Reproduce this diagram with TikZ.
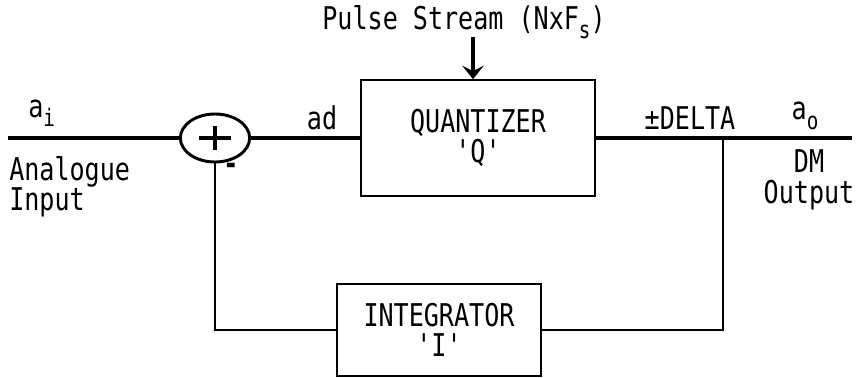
\documentclass[tikz,border=0pt]{standalone}
\usepackage{fontspec}
\setmainfont[FakeStretch=0.8,Ligatures=TeXOff]{DejaVu Sans Mono}
\usetikzlibrary{arrows.meta,shapes.geometric}
\newcommand{\lowsub}[1]{\raisebox{-0.3em}{\fontsize{18}{18}\selectfont #1}}

\tikzset{
  txt/.style={font=\fontsize{23.5}{23}\selectfont,inner sep=0pt},
  blockbox/.style={draw,line width=1.3pt,align=center,txt},
  sig/.style={line width=3pt},
  fb/.style={line width=2.2pt},
}

\begin{document}
\begin{tikzpicture}[x=0.75pt,y=-0.75pt]
        \useasboundingbox (0,0) rectangle (858,378);

        % blocks
        \node[draw,line width=2.2pt,ellipse,inner sep=0pt,minimum width=52pt,minimum height=36pt] (sum) at (215,138) {};
        \draw[line width=3pt] ([xshift=-12pt]sum.center) -- ([xshift=12pt]sum.center);
        \draw[line width=3pt] ([yshift=-9pt]sum.center) -- ([yshift=9pt]sum.center);
        \node[blockbox,minimum width=175pt,minimum height=87pt] (quant) at (478,138) {QUANTIZER\\'Q'};
        \node[blockbox,minimum width=153pt,minimum height=69pt] (integ) at (439,330) {INTEGRATOR\\'I'};

        \coordinate (in) at (8,138);
        \coordinate (out) at (852,138);
        \coordinate (junc) at (723,138);
        \coordinate (fbR) at (723,330);
        \coordinate (fbL) at (215,330);

        % forward path
        \draw[sig] (in) -- (sum.west);
        \draw[sig] (sum.east) -- (quant.west);
        \draw[sig] (quant.east) -- (out);

        % feedback path
        \draw[fb] (junc) -- (fbR) -- (integ.east);
        \draw[fb] (integ.west) -- (fbL) -- (sum.south);

        % clock input
        \node[txt] (pulse) at (464,22) {Pulse Stream (NxF\lowsub{s})};
        \draw[line width=3pt,-{Stealth[length=10pt,width=16pt,inset=4pt]}] (473,37) -- (quant.north -| 473,0);

        % labels
        \node[txt,anchor=south west] (ai) at (28,127) {a\lowsub{i}};
        \node[txt,anchor=north west,align=left] (ain) at (9,156) {Analogue\\Input};
        \node[txt,font=\fontsize{23.5}{23}\selectfont\bfseries] (minus) at (231,169) {-};
        \node[txt] (ad) at (322,118) {ad};
        \node[txt] (delta) at (690,118) {±DELTA};
        \node[txt] (ao) at (805,116) {a\lowsub{o}};
        \node[txt,align=center] (dmout) at (809,180) {DM\\Output};
\end{tikzpicture}
\end{document}
